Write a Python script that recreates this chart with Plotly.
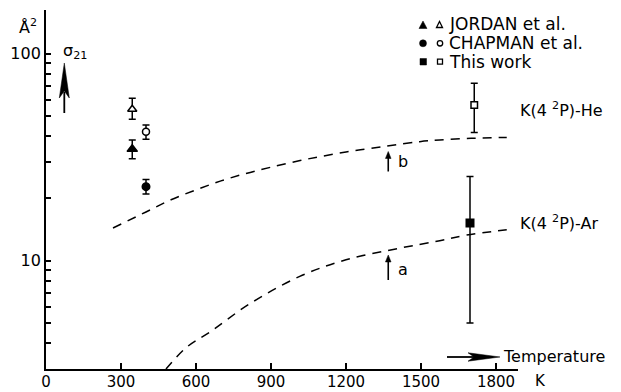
import math
import plotly.graph_objects as go

# ---------------- data ----------------
# index 0 = K(4 2P)-He (open symbols), index 1 = K(4 2P)-Ar (filled symbols)
jordan_temp = [345, 345]
jordan_sigma = [53.9, 34.6]
jordan_upper = [60.9, 38.3]
jordan_lower = [48.3, 31.1]

chapman_temp = [400, 400]
chapman_sigma = [42.0, 22.8]
chapman_upper = [45.3, 24.7]
chapman_lower = [38.6, 21.0]

thiswork_temp = [1713, 1696]
thiswork_sigma = [56.5, 15.2]
thiswork_upper = [72.0, 25.5]
thiswork_lower = [41.6, 5.0]

he_curve_temp = [268, 400, 500, 600, 700, 800, 900, 1041, 1200, 1362, 1495, 1575, 1700, 1843]
he_curve_sigma = [14.4, 17.2, 19.7, 22.0, 24.3, 26.4, 28.3, 30.9, 33.5, 35.8, 37.6, 38.3, 39.0, 39.4]

ar_curve_temp = [480, 560, 664, 815, 1015, 1200, 1415, 1575, 1682, 1843]
ar_curve_sigma = [3.0, 3.8, 4.6, 6.2, 8.4, 10.1, 11.5, 12.5, 13.3, 14.1]

x_ticks = [0, 300, 600, 900, 1200, 1500, 1800]
y_major = [10, 100]
y_minor = [3, 4, 5, 6, 7, 8, 9, 20, 30, 40, 50, 60, 70, 80, 90]

arrow_temp = 1369          # position of the "a" / "b" arrows
arrow_b_sigma = 33.7
arrow_a_sigma = 10.66
label_temp = 1428
label_b_sigma = 30.1
label_a_sigma = 9.03

FONT = "DejaVu Sans"

# ---------------- geometry helpers (reference pixels -> paper) ----------------
W, H = 621, 392
OFF = 8                      # page body margin of the html page
L, R, T, B = 46, 103, 10, 23  # plot area in reference pixels
PW, PH = W - L - R, H - T - B
X_MAX = 1888
Y_LO, Y_HI = math.log10(3), 2.211


def px(x):
    return (x - L) / PW


def py(y):
    return (H - B - y) / PH


fig = go.Figure()


def err(s, up, lo, i):
    return up[i] - s[i], s[i] - lo[i]


def add_pair(temp, sig, up, lo, sym, size_open, size_fill):
    for i, filled in [(0, False), (1, True)]:
        p, m = err(sig, up, lo, i)
        fig.add_trace(go.Scatter(
            x=[temp[i]], y=[sig[i]], mode="markers",
            marker=dict(symbol=sym, size=size_fill if filled else size_open,
                        color="black" if filled else "white",
                        line=dict(color="black", width=1.5)),
            error_y=dict(type="data", array=[p], arrayminus=[m], color="black",
                         thickness=1.5, width=3.5),
            showlegend=False, hoverinfo="skip"))


# dashed theoretical curves
fig.add_trace(go.Scatter(x=he_curve_temp, y=he_curve_sigma, mode="lines",
                         line=dict(color="black", width=1.5, dash="9px,7px", shape="spline"),
                         showlegend=False, hoverinfo="skip"))
fig.add_trace(go.Scatter(x=ar_curve_temp, y=ar_curve_sigma, mode="lines",
                         line=dict(color="black", width=1.5, dash="9px,7px", shape="spline"),
                         showlegend=False, hoverinfo="skip"))

add_pair(jordan_temp, jordan_sigma, jordan_upper, jordan_lower, "triangle-up", 8, 9)
add_pair(chapman_temp, chapman_sigma, chapman_upper, chapman_lower, "circle", 7, 7.5)
add_pair(thiswork_temp, thiswork_sigma, thiswork_upper, thiswork_lower, "square", 6.5, 7.5)

shapes = []
annotations = []


def path_shape(pts, fill=True, lw=1.2):
    d = "M " + " L ".join(f"{px(a):.5f},{py(b):.5f}" for a, b in pts) + " Z"
    shapes.append(dict(type="path", path=d, xref="paper", yref="paper",
                       fillcolor="black" if fill else "white",
                       line=dict(color="black", width=lw if not fill else 0.5)))


def line_shape(x0, y0, x1, y1, w=1.5):
    shapes.append(dict(type="line", xref="paper", yref="paper",
                       x0=px(x0), y0=py(y0), x1=px(x1), y1=py(y1),
                       line=dict(color="black", width=w)))


def text(x, y, s, size=16, xanchor="left"):
    annotations.append(dict(x=px(x), y=py(y), xref="paper", yref="paper", text=s,
                            showarrow=False, xanchor=xanchor, yanchor="middle",
                            font=dict(family=FONT, size=size, color="black")))


# ---- legend (drawn by hand: filled + open symbol per row) ----
path_shape([(419, 28.5), (427, 28.5), (423, 21.0)], fill=True)
path_shape([(436.5, 27.5), (442.5, 27.5), (439.5, 21.5)], fill=False, lw=1.3)
shapes.append(dict(type="circle", xref="paper", yref="paper",
                   x0=px(419.5), x1=px(426.5), y0=py(46.8), y1=py(39.8),
                   fillcolor="black", line=dict(color="black", width=0.5)))
shapes.append(dict(type="circle", xref="paper", yref="paper",
                   x0=px(437.3), x1=px(442.7), y0=py(46.0), y1=py(40.6),
                   fillcolor="white", line=dict(color="black", width=1.3)))
shapes.append(dict(type="rect", xref="paper", yref="paper",
                   x0=px(420), x1=px(426.5), y0=py(65), y1=py(58.5),
                   fillcolor="black", line=dict(color="black", width=0.5)))
shapes.append(dict(type="rect", xref="paper", yref="paper",
                   x0=px(437.5), x1=px(442.5), y0=py(64.2), y1=py(59.2),
                   fillcolor="white", line=dict(color="black", width=1.3)))
text(446.5, 24, "JORDAN et al.", 17)
text(446.5, 43, "CHAPMAN et al.", 17)
text(446.5, 61.5, "This work", 17)

# ---- sigma_21 arrow ----
line_shape(64.3, 113, 64.3, 92, w=1.8)
path_shape([(64.3, 63), (59.3, 98), (64.3, 91), (69.3, 98)], fill=True)
text(61, 51, "σ<sub>21</sub>", 16)

# ---- Temperature arrow ----
line_shape(447, 357, 475, 357, w=1.8)
path_shape([(500, 357), (468, 352.8), (474, 357), (468, 361.2)], fill=True)
text(501, 356.5, "Temperature", 16)

# ---- a / b arrows (tips placed in data space) ----
xa = L + arrow_temp / X_MAX * PW
yb_tip = H - B - (math.log10(arrow_b_sigma) - Y_LO) / (Y_HI - Y_LO) * PH
ya_tip = H - B - (math.log10(arrow_a_sigma) - Y_LO) / (Y_HI - Y_LO) * PH
for ytip, ln in [(yb_tip, 20), (ya_tip, 25)]:
    line_shape(xa, ytip + ln, xa, ytip + 5, w=1.6)
    path_shape([(xa, ytip), (xa - 2.8, ytip + 7), (xa + 2.8, ytip + 7)], fill=True)

annotations.append(dict(x=label_temp, y=math.log10(label_b_sigma), xref="x", yref="y",
                        text="b", showarrow=False, xanchor="center", yanchor="middle",
                        font=dict(family=FONT, size=16, color="black")))
annotations.append(dict(x=label_temp, y=math.log10(label_a_sigma), xref="x", yref="y",
                        text="a", showarrow=False, xanchor="center", yanchor="middle",
                        font=dict(family=FONT, size=16, color="black")))

# ---- curve labels and axis units ----
text(518, 109, "K(4 <sup>2</sup>P)-He", 16)
text(518, 223, "K(4 <sup>2</sup>P)-Ar", 16)
text(28, 27, "Å<sup>2</sup>", 16, xanchor="center")
text(533, 381.5, "K", 15)

# The html body adds an 8 px margin, so the figure is drawn 8 px smaller and
# its left/top margins reduced by the same amount.
fig.update_layout(
    width=W - OFF, height=H - OFF,
    margin=dict(l=L - OFF, r=R, t=T - OFF, b=B, pad=0, autoexpand=False),
    paper_bgcolor="white", plot_bgcolor="white",
    font=dict(family=FONT, size=16, color="black"),
    shapes=shapes, annotations=annotations, showlegend=False,
)
fig.update_xaxes(range=[0, X_MAX], tickmode="array", tickvals=x_ticks,
                 ticks="inside", ticklen=6, tickwidth=1.5, tickcolor="black",
                 ticklabelstandoff=-2,
                 showline=True, linewidth=1.8, linecolor="black",
                 showgrid=False, zeroline=False, automargin=False,
                 tickfont=dict(family=FONT, size=15, color="black"))
fig.update_yaxes(type="log", range=[Y_LO, Y_HI], tickmode="array",
                 tickvals=y_major, ticktext=[str(v) for v in y_major],
                 ticks="inside", ticklen=5, tickwidth=1.5, tickcolor="black",
                 minor=dict(tickmode="array", tickvals=y_minor, ticks="inside",
                            ticklen=5, tickwidth=1.5, tickcolor="black", showgrid=False),
                 showline=True, linewidth=1.8, linecolor="black",
                 showgrid=False, zeroline=False, automargin=False,
                 tickfont=dict(family=FONT, size=16, color="black"))

fig.write_html("out.html")
